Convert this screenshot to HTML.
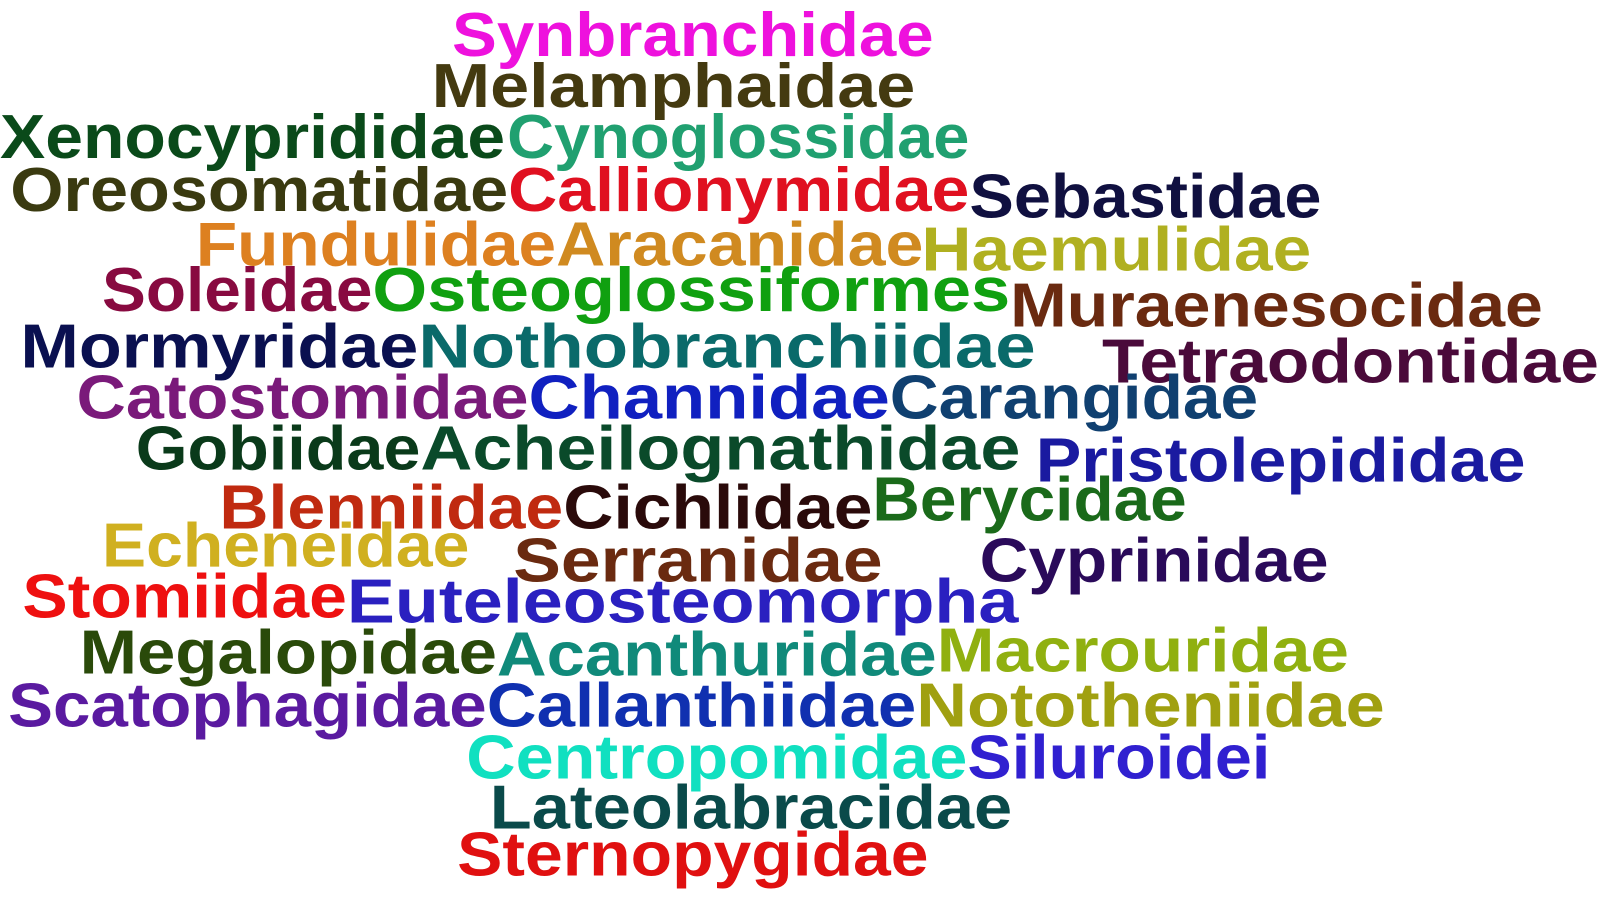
<!DOCTYPE html>
<html><head><meta charset="utf-8"><style>
html,body{margin:0;padding:0;background:#fff;}
svg{display:block;}
text{font-family:"Liberation Sans","DejaVu Sans",sans-serif;font-weight:bold;font-size:61px;}
</style></head><body>
<svg width="1600" height="900" viewBox="0 0 1600 900"><g id="cloud" transform="scale(1.0204)"></g></svg>
<script>
const words=["Synbranchidae","Melamphaidae","Xenocyprididae","Cynoglossidae","Oreosomatidae","Callionymidae","Sebastidae","Fundulidae","Aracanidae","Haemulidae","Soleidae","Osteoglossiformes","Muraenesocidae","Mormyridae","Nothobranchiidae","Tetraodontidae","Catostomidae","Channidae","Carangidae","Gobiidae","Acheilognathidae","Pristolepididae","Blenniidae","Cichlidae","Berycidae","Echeneidae","Serranidae","Cyprinidae","Stomiidae","Euteleosteomorpha","Megalopidae","Acanthuridae","Macrouridae","Scatophagidae","Callanthiidae","Nototheniidae","Centropomidae","Siluroidei","Lateolabracidae","Sternopygidae"];
const xLeft=[443,423,0,497,10,498,950,192,545,903,100,365,990,20,410,1080,75,518,872,133,412,1015,215,552,855,100,503,960,22,340,78,487,918,8,477,898,457,948,480,448];
const xRight=[915,897,495,950,498,950,1295,545,905,1285,365,990,1512,410,1015,1567,518,872,1233,412,1000,1495,552,855,1163,460,865,1302,340,998,487,918,1322,477,898,1357,948,1245,992,910];
const baseY=[55,105,155,155,207,207,213,260,260,265,305,305,320,360,360,375,410,410,410,460,460,472,518,518,510,555,570,570,605,610,660,662,658,712,712,712,763,763,812,858];
const colors=["#ee11dd","#443a10","#0a4a1a","#20a070","#3a3a10","#e01020","#101040","#dd8020","#d08a20","#b0b020","#880a40","#10a010","#6a2a10","#0a1050","#0a6a6a","#4a0a3a","#7a1a7a","#1020c0","#104070","#0a3a1a","#0a4a2a","#1a1aa0","#c02a10","#2a0a0a","#1a6a1a","#d0b020","#6a2a10","#2a0a5a","#ee1010","#2a20c0","#2a4a0a","#108a7a","#90b010","#5a1aa0","#1030b0","#a0a010","#10e0c0","#3020d0","#0a4a4a","#e01010"];
const svg=document.getElementById('cloud');
const NS="http://www.w3.org/2000/svg";
words.forEach((w,i)=>{
  const t=document.createElementNS(NS,'text');
  t.setAttribute('x',xLeft[i]);
  t.setAttribute('y',baseY[i]);
  t.setAttribute('fill',colors[i]);
  t.setAttribute('textLength',xRight[i]-xLeft[i]);
  t.setAttribute('lengthAdjust','spacingAndGlyphs');
  
  
  t.textContent=w;
  svg.appendChild(t);
});
</script>
</body></html>
